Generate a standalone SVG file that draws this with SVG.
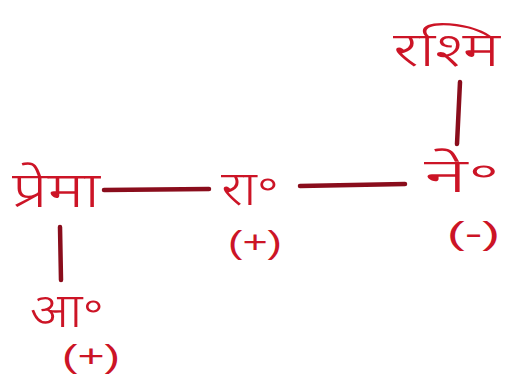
<svg xmlns="http://www.w3.org/2000/svg" width="507" height="380" viewBox="0 0 507 380">
<style>
.t{fill:#cc1426;font-family:"Noto Sans Devanagari","Lohit Devanagari","FreeSans","Noto Sans",sans-serif;font-weight:300;}
.s{fill:#cc1426;font-family:"Liberation Sans",sans-serif;}
.c{stroke:#8a0d1c;stroke-width:4.5;stroke-linecap:round;fill:none;}
</style>
<rect width="507" height="380" fill="#ffffff"/>
<g id="connectors">
<line class="c" x1="104" y1="190" x2="209" y2="189"/>
<line class="c" x1="300" y1="186" x2="405" y2="184"/>
<line class="c" x1="460" y1="82" x2="457" y2="144"/>
<line class="c" x1="60" y1="227" x2="61" y2="280"/>
</g>
<g id="prema"><text class="t" x="12" y="207" font-size="50" textLength="88" lengthAdjust="spacingAndGlyphs">प्रेमा</text></g>
<g id="ra"><text class="t" x="221" y="205" font-size="48" textLength="58" lengthAdjust="spacingAndGlyphs">रा॰</text>
<text class="s" x="228" y="253" font-size="32" textLength="54" lengthAdjust="spacingAndGlyphs">(+)</text></g>
<g id="ne"><text class="t" x="424" y="192" font-size="48" textLength="76" lengthAdjust="spacingAndGlyphs">ने॰</text>
<text class="s" x="447" y="244" font-size="32" textLength="53" lengthAdjust="spacingAndGlyphs">(-)</text></g>
<g id="rashmi"><text class="t" x="393" y="66" font-size="48" textLength="107" lengthAdjust="spacingAndGlyphs">रश्मि</text></g>
<g id="aa"><text class="t" x="30" y="327" font-size="48" textLength="74" lengthAdjust="spacingAndGlyphs">आ॰</text>
<text class="s" x="62" y="367" font-size="31" textLength="58" lengthAdjust="spacingAndGlyphs">(+)</text></g>
</svg>
